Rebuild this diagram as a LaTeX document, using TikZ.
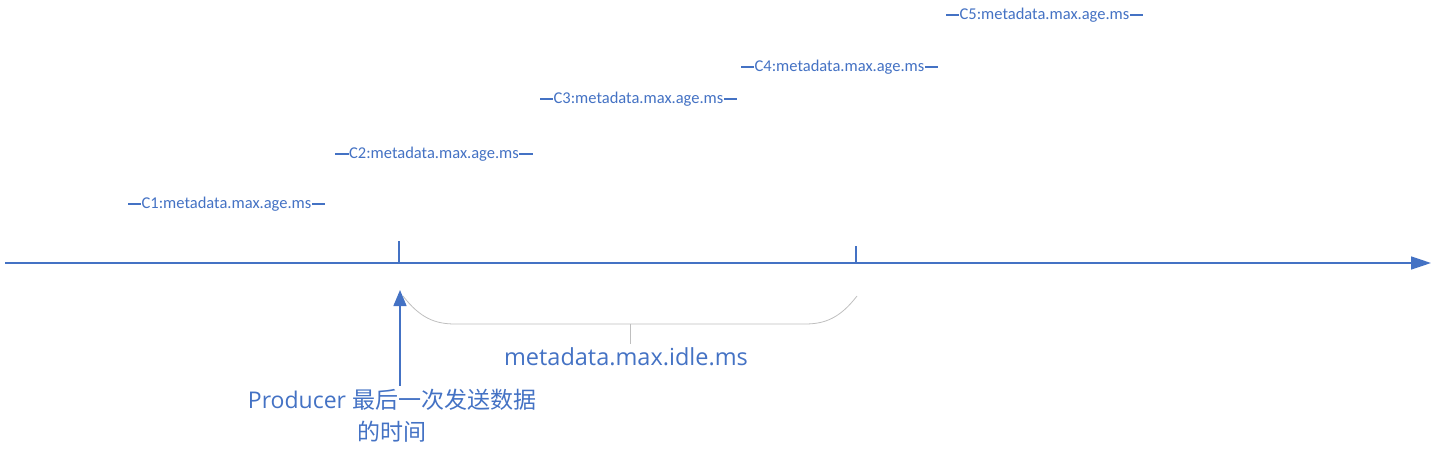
\documentclass[tikz,border=0pt]{standalone}
\usepackage{fontspec}
\setmainfont{Carlito}
\newfontfamily\bigfont{Open Sans}
\newfontfamily\cjkfont{Noto Sans CJK SC}
\usetikzlibrary{arrows.meta}
\definecolor{axisblue}{RGB}{68,114,196}
\definecolor{bracegray}{RGB}{191,191,191}

\begin{document}
\begin{tikzpicture}[x=1pt,y=-1pt,
  every node/.style={text=axisblue, align=center},
  timeline/.style={draw=axisblue, line width=1.5pt, -{Triangle[length=20pt,width=13pt]}},
  tick/.style={draw=axisblue, line width=1.5pt},
  agebar/.style={draw=axisblue, line width=1.2pt},
  agelabel/.style={fill=white, inner sep=0.5pt, font=\fontsize{16.5}{18}\selectfont},
  bigtext/.style={font=\bigfont\fontsize{23}{32}\selectfont}]
  \useasboundingbox (0,0) rectangle (1434,455);
  % time axis
  \coordinate (start) at (5,263);
  \coordinate (end) at (1431,263);
  \draw[timeline] (start) -- (end);
  \coordinate (t1) at (399,263);
  \coordinate (t1top) at (399,241);
  \coordinate (t2) at (856,263);
  \coordinate (t2top) at (856,246);
  \draw[tick] (t1) -- (t1top);
  \draw[tick] (t2) -- (t2top);
  % age intervals
  \foreach \i/\xa/\xb/\y in {1/128/325/204, 2/335/533/154, 3/540/737/99, 4/741/938/67, 5/946/1143/15}{
    \coordinate (c\i s) at (\xa,\y);
    \coordinate (c\i e) at (\xb,\y);
    \draw[agebar] (c\i s) -- node[agelabel] (c\i) {C\i:metadata.max.age.ms} (c\i e);
  }
  % idle interval
  \coordinate (bl) at (403,296);
  \coordinate (br) at (857,296);
  \coordinate (bm) at (630,324);
  \node[bigtext, font=\bigfont\fontsize{23.5}{32}\selectfont] (idle) at (626,357) {metadata.max.idle.ms};
  \draw[bracegray, line width=0.8pt] (bl) .. controls (420,318) and (435,324) .. (455,324)
    -- (805,324) .. controls (825,324) and (840,318) .. (br);
  \draw[bracegray, line width=0.8pt] (bm) -- (idle.north -| bm);
  % last send
  \node[bigtext] (send) at (392,416) {Producer {\cjkfont 最后一次发送数据}\\{\cjkfont 的时间}};
  \coordinate (arrowtip) at (400,290);
  \draw[axisblue, line width=1.5pt, -{Triangle[length=16pt,width=13pt]}] (send.north -| arrowtip) -- (arrowtip);
\end{tikzpicture}
\end{document}
